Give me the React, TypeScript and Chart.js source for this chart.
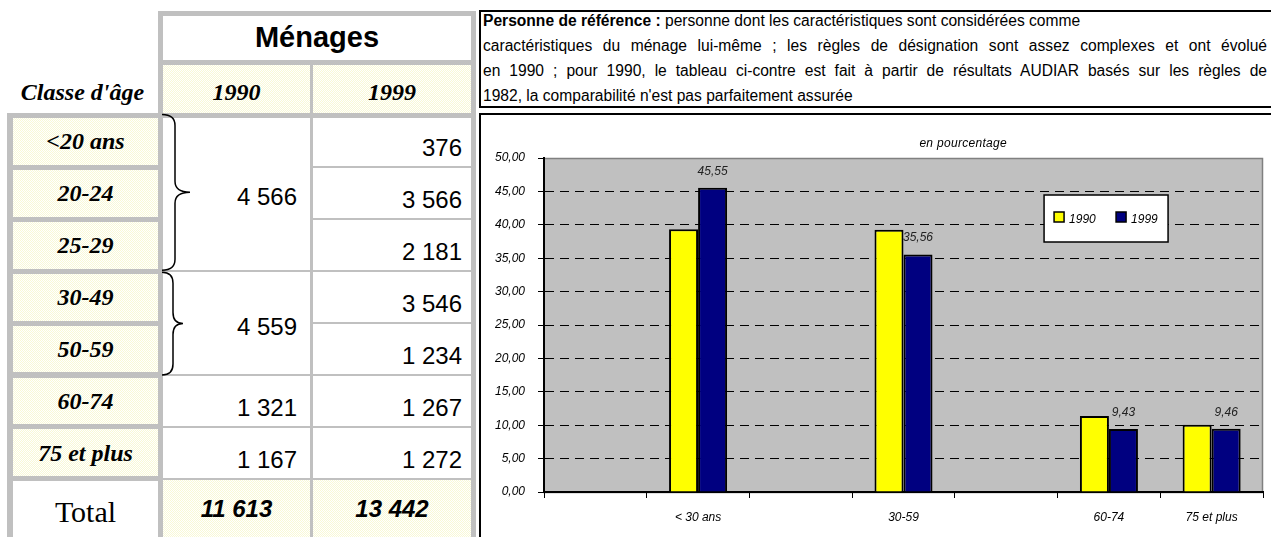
import React, { useEffect, useRef } from "react";
import { Chart, registerables } from "chart.js";

Chart.register(...registerables);

// ---------- chart data ----------
const chartCategories = ["", "< 30 ans", "", "30-59", "", "60-74", "75 et plus"];
const seriesLabels = ["1990", "1999"];
const pct1990 = [null, 39.32, null, 39.26, null, 11.38, 10.05];
const pct1999 = [null, 45.55, null, 35.56, null, 9.43, 9.46];
const seriesColors = ["#ffff00", "#000080"];
const yMin = 0;
const yMax = 50;
const yStep = 5;
const chartTitle = "en pourcentage";

// ---------- table data ----------
const ageClasses = ["<20 ans", "20-24", "25-29", "30-49", "50-59", "60-74", "75 et plus"];
const menages1990 = [
  { value: "4 566", span: 3 },
  { value: "4 559", span: 2 },
  { value: "1 321", span: 1 },
  { value: "1 167", span: 1 },
];
const menages1999 = ["376", "3 566", "2 181", "3 546", "1 234", "1 267", "1 272"];
const totals = ["11 613", "13 442"];
const tableTitle = "Ménages";
const yearHeaders = ["1990", "1999"];
const ageHeader = "Classe d'âge";
const totalLabel = "Total";
const noteBold = "Personne de référence :";
const noteLines = [
  " personne dont les caractéristiques sont considérées comme",
  "caractéristiques du ménage lui-même ; les règles de désignation sont assez complexes et ont évolué",
  "en 1990 ; pour 1990, le tableau ci-contre est fait à partir de résultats AUDIAR basés sur les règles de",
  "1982, la comparabilité n'est pas parfaitement assurée",
];

const SANS = "'Liberation Sans', Arial, sans-serif";
const SERIF = "'Liberation Serif', 'Times New Roman', serif";
const GRAY = "#c0c0c0";

const fmt = (v: number) => v.toFixed(2).replace(".", ",");

const yellowFill: React.CSSProperties = {
  backgroundColor: "#fdfdea",
  backgroundImage:
    "conic-gradient(#f9f9d6 0 25%, #ffffff 0 50%, #f9f9d6 0 75%, #ffffff 0)",
  backgroundSize: "2px 2px",
};

const Box = (p: { x: number; y: number; w: number; h: number; style?: React.CSSProperties; children?: React.ReactNode }) => (
  <div
    style={{
      position: "absolute",
      left: p.x,
      top: p.y,
      width: p.w,
      height: p.h,
      boxSizing: "border-box",
      ...p.style,
    }}
  >
    {p.children}
  </div>
);

// row edges of the table body
const ROW0 = 115.5;
const ROWH = 51.9;
const edge = (i: number) => ROW0 + i * ROWH;

const plotBg = {
  id: "plotBg",
  beforeDraw(chart: any) {
    const { ctx, chartArea: a } = chart;
    ctx.save();
    ctx.fillStyle = "#c0c0c0";
    ctx.fillRect(a.left, a.top, a.right - a.left, a.bottom - a.top);
    ctx.strokeStyle = "#808080";
    ctx.lineWidth = 1.5;
    ctx.strokeRect(a.left, a.top + 0.5, a.right - a.left - 0.5, a.bottom - a.top);
    ctx.restore();
  },
};

const labelsAndLegend = {
  id: "labelsAndLegend",
  afterDatasetsDraw(chart: any) {
    const { ctx } = chart;
    const meta = chart.getDatasetMeta(1);
    const data = chart.data.datasets[1].data;
    ctx.save();
    ctx.font = `italic 12px ${SANS}`;
    ctx.fillStyle = "#222";
    ctx.textAlign = "center";
    ctx.textBaseline = "alphabetic";
    meta.data.forEach((el: any, i: number) => {
      const v = data[i];
      if (v == null) return;
      ctx.fillText(fmt(v), el.x, el.y - 13);
    });
    ctx.restore();
  },
  afterDraw(chart: any) {
    const { ctx, chartArea: a } = chart;
    const w = a.right - a.left;
    ctx.save();
    // title
    ctx.font = `italic 12px ${SANS}`;
    (ctx as any).letterSpacing = "0.3px";
    ctx.fillStyle = "#000";
    ctx.textAlign = "center";
    ctx.textBaseline = "alphabetic";
    ctx.fillText(chartTitle, a.left + 0.583 * w, a.top - 11);
    (ctx as any).letterSpacing = "0px";
    // legend
    const lx = a.left + 0.6955 * w;
    const ly = a.top + 37;
    const lw = 124;
    const lh = 47;
    ctx.fillStyle = "#fff";
    ctx.fillRect(lx, ly, lw, lh);
    ctx.strokeStyle = "#000";
    ctx.lineWidth = 1.5;
    ctx.strokeRect(lx, ly, lw, lh);
    ctx.font = `italic 12px ${SANS}`;
    ctx.textAlign = "left";
    chart.data.datasets.forEach((ds: any, i: number) => {
      const ix = lx + 10 + i * 62;
      const iy = ly + 17;
      ctx.fillStyle = ds.backgroundColor;
      ctx.fillRect(ix, iy, 10, 10);
      ctx.strokeStyle = "#000";
      ctx.lineWidth = 1.5;
      ctx.strokeRect(ix, iy, 10, 10);
      ctx.fillStyle = "#000";
      ctx.fillText(ds.label, ix + 15, iy + 10.5);
    });
    ctx.restore();
  },
};

export default function App() {
  const ref = useRef<HTMLCanvasElement>(null);

  useEffect(() => {
    const chart = new Chart(ref.current as HTMLCanvasElement, {
      type: "bar",
      data: {
        labels: chartCategories,
        datasets: [
          {
            label: seriesLabels[0],
            data: pct1990 as any,
            backgroundColor: seriesColors[0],
            borderColor: "#000",
            borderWidth: 2,
          },
          {
            label: seriesLabels[1],
            data: pct1999 as any,
            backgroundColor: seriesColors[1],
            borderColor: "#000",
            borderWidth: 2,
          },
        ],
      },
      options: {
        animation: false,
        responsive: false,
        maintainAspectRatio: false,
        layout: { padding: { top: 43, right: 8, left: 0, bottom: 0 } },
        datasets: { bar: { categoryPercentage: 0.565, barPercentage: 1 } } as any,
        plugins: {
          legend: { display: false },
          title: { display: false },
          tooltip: { enabled: false },
        },
        scales: {
          x: {
            offset: true,
            grid: {
              display: true,
              offset: true,
              drawOnChartArea: false,
              drawTicks: true,
              tickLength: 6,
              tickColor: "#000",
              tickWidth: 1,
            },
            border: { display: true, color: "#000", width: 2 },
            ticks: {
              color: "#000",
              autoSkip: false,
              maxRotation: 0,
              padding: 12,
              font: { family: SANS, size: 12, style: "italic" },
            },
            afterFit: (s: any) => {
              s.height = 45;
            },
          },
          y: {
            min: yMin,
            max: yMax,
            ticks: {
              stepSize: yStep,
              color: "#000",
              padding: 13,
              font: { family: SANS, size: 12, style: "italic" },
              callback: (v: any) => fmt(Number(v)),
            },
            grid: {
              color: (c: any) =>
                c.tick && (c.tick.value === yMin || c.tick.value === yMax) ? "rgba(0,0,0,0)" : "#000",
              lineWidth: 1,
              tickLength: 6,
              tickColor: "#000",
              tickWidth: 1,
              tickBorderDash: [],
            } as any,
            border: { display: true, color: "#000", width: 2, dash: [9, 6] },
            afterFit: (s: any) => {
              s.width = 63;
            },
          },
        },
      },
      plugins: [plotBg, labelsAndLegend],
    });
    return () => chart.destroy();
  }, []);

  const numStyle: React.CSSProperties = {
    fontFamily: SANS,
    fontSize: 24,
    lineHeight: "24px",
    textAlign: "right",
    color: "#000",
    whiteSpace: "nowrap",
  };
  const serifBI: React.CSSProperties = {
    fontFamily: SERIF,
    fontSize: 24,
    fontWeight: "bold",
    fontStyle: "italic",
    lineHeight: "24px",
    color: "#000",
    whiteSpace: "nowrap",
    textAlign: "center",
  };

  // merged 1990 cells
  let acc = 0;
  const cells1990 = menages1990.map((c) => {
    const start = acc;
    acc += c.span;
    return { ...c, start, end: acc };
  });

  const bracePath = (y0: number, y1: number, xs: number, xt: number) => {
    const ym = (y0 + y1) / 2;
    const r = 11;
    const x0 = 162;
    return `M ${x0} ${y0} Q ${xs} ${y0} ${xs} ${y0 + r} L ${xs} ${ym - r} Q ${xs} ${ym} ${xt} ${ym} Q ${xs} ${ym} ${xs} ${ym + r} L ${xs} ${y1 - r} Q ${xs} ${y1} ${x0} ${y1}`;
  };

  const noteText: React.CSSProperties = {
    fontFamily: SANS,
    fontSize: 15.6,
    lineHeight: "25px",
    height: 25,
    color: "#000",
    whiteSpace: "nowrap",
    width: 784,
  };
  const justified: React.CSSProperties = {
    ...noteText,
    whiteSpace: "normal",
    textAlign: "justify",
    textAlignLast: "justify" as any,
    overflow: "hidden",
  };

  return (
    <div
      style={{
        position: "absolute",
        left: 0,
        top: 0,
        width: 1271,
        height: 537,
        overflow: "hidden",
        background: "#fff",
      }}
    >
      {/* ----- header frame ----- */}
      <Box x={158} y={11} w={318} h={107} style={{ background: GRAY }} />
      <Box x={163} y={16} w={308} h={44} style={{ background: "#fff" }} />
      <Box
        x={163}
        y={23}
        w={308}
        h={29}
        style={{ fontFamily: SANS, fontSize: 29, fontWeight: "bold", lineHeight: "29px", textAlign: "center", color: "#000" }}
      >
        {tableTitle}
      </Box>
      <Box x={163} y={65} w={147} h={48} style={yellowFill} />
      <Box x={313} y={65} w={158} h={48} style={yellowFill} />
      <Box x={163} y={80} w={147} h={24} style={serifBI}>
        {yearHeaders[0]}
      </Box>
      <Box x={313} y={80} w={158} h={24} style={serifBI}>
        {yearHeaders[1]}
      </Box>
      <Box x={7} y={80} w={151} h={24} style={serifBI}>
        {ageHeader}
      </Box>

      {/* ----- body frame ----- */}
      <Box x={7} y={113} w={156} h={424} style={{ background: GRAY }} />
      <Box x={163} y={113} w={313} h={5} style={{ background: GRAY }} />
      <Box x={471} y={113} w={5} h={424} style={{ background: GRAY }} />
      <Box x={163} y={118} w={308} h={419} style={{ background: "#fff" }} />
      <Box x={310} y={118} w={3} h={419} style={{ background: GRAY }} />

      {ageClasses.map((a, i) => (
        <Box
          key={a}
          x={13}
          y={edge(i) + 2.5}
          w={145}
          h={ROWH - 5}
          style={{ ...yellowFill, ...serifBI, display: "flex", alignItems: "center", justifyContent: "center" }}
        >
          {a}
        </Box>
      ))}
      <Box x={13} y={edge(7) + 2.5} w={145} h={60} style={{ background: "#fff" }} />
      <Box
        x={13}
        y={497}
        w={145}
        h={30}
        style={{ fontFamily: SERIF, fontSize: 30, lineHeight: "30px", textAlign: "center", color: "#000" }}
      >
        {totalLabel}
      </Box>

      {/* 1999 column lines and values */}
      {menages1999.map((v, i) => (
        <React.Fragment key={"c" + i}>
          {i > 0 && <Box x={313} y={edge(i) - 1} w={158} h={2} style={{ background: GRAY }} />}
          <Box x={313} y={edge(i + 1) - 11 - 20.3} w={149} h={24} style={numStyle}>
            {v}
          </Box>
        </React.Fragment>
      ))}
      {/* 1990 column merged cells */}
      {cells1990.map((c, i) => {
        const top = edge(c.start);
        const bottom = edge(c.end);
        const baseline = c.span > 1 ? (top + bottom) / 2 + 12 : bottom - 11;
        return (
          <React.Fragment key={"b" + i}>
            {c.start > 0 && <Box x={163} y={top - 1} w={147} h={2} style={{ background: GRAY }} />}
            <Box x={163} y={baseline - 20.3} w={134} h={24} style={numStyle}>
              {c.value}
            </Box>
          </React.Fragment>
        );
      })}

      {/* totals */}
      <Box x={163} y={edge(7) - 1} w={308} h={2} style={{ background: GRAY }} />
      <Box x={163} y={edge(7) + 1} w={147} h={60} style={yellowFill} />
      <Box x={313} y={edge(7) + 1} w={158} h={60} style={yellowFill} />
      {totals.map((t, i) => (
        <Box
          key={"t" + i}
          x={i === 0 ? 163 : 313}
          y={497}
          w={i === 0 ? 147 : 158}
          h={24}
          style={{ ...numStyle, fontWeight: "bold", fontStyle: "italic", textAlign: "center" }}
        >
          {t}
        </Box>
      ))}

      {/* braces */}
      <svg
        width={1271}
        height={537}
        style={{ position: "absolute", left: 0, top: 0, pointerEvents: "none" }}
      >
        <path d={bracePath(edge(0) - 1, edge(3) - 1, 175, 190)} fill="none" stroke="#000" strokeWidth={1.5} />
        <path d={bracePath(edge(3) + 1, edge(5), 173, 183)} fill="none" stroke="#000" strokeWidth={1.5} />
      </svg>

      {/* note box */}
      <Box x={479} y={10} w={800} h={98} style={{ border: "2px solid #000", background: "#fff" }} />
      <div style={{ position: "absolute", left: 483, top: 8 }}>
        <div style={noteText}>
          <b>{noteBold}</b>
          {noteLines[0]}
        </div>
        <div style={justified}>{noteLines[1]}</div>
        <div style={justified}>{noteLines[2]}</div>
        <div style={noteText}>{noteLines[3]}</div>
      </div>

      {/* chart box */}
      <Box x={479} y={113} w={800} h={440} style={{ border: "2px solid #000", background: "#fff" }} />
      <canvas
        ref={ref}
        width={790}
        height={422}
        style={{ position: "absolute", left: 481, top: 115, width: 790, height: 422 }}
      />
    </div>
  );
}
